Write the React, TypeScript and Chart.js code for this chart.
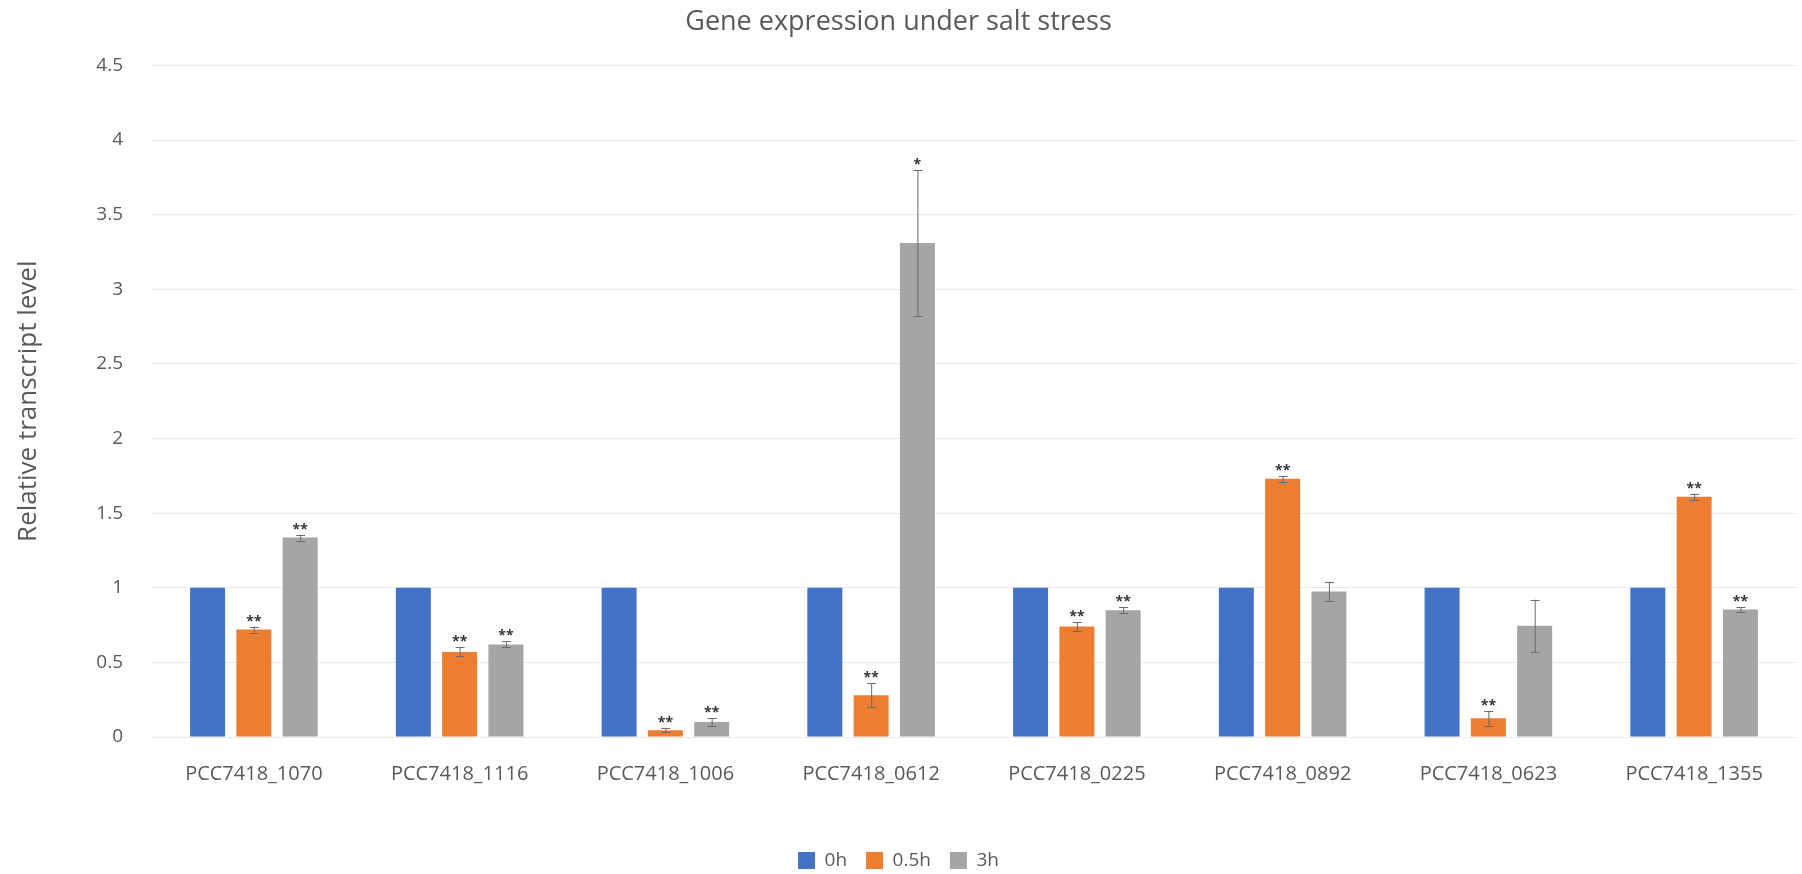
import React, { useEffect, useRef } from "react";
import { Chart, registerables } from "chart.js";

Chart.register(...registerables);

const categories = [
  "PCC7418_1070",
  "PCC7418_1116",
  "PCC7418_1006",
  "PCC7418_0612",
  "PCC7418_0225",
  "PCC7418_0892",
  "PCC7418_0623",
  "PCC7418_1355",
];
const seriesNames = ["0h", "0.5h", "3h"];
const values0h = [1, 1, 1, 1, 1, 1, 1, 1];
const values05h = [0.72, 0.57, 0.046, 0.28, 0.74, 1.73, 0.125, 1.61];
const values3h = [1.336, 0.62, 0.1, 3.31, 0.85, 0.975, 0.745, 0.855];
const err0h = [0, 0, 0, 0, 0, 0, 0, 0];
const err05h = [0.02, 0.03, 0.015, 0.08, 0.03, 0.02, 0.05, 0.02];
const err3h = [0.02, 0.02, 0.025, 0.49, 0.02, 0.065, 0.175, 0.015];
const sig0h = ["", "", "", "", "", "", "", ""];
const sig05h = ["**", "**", "**", "**", "**", "**", "**", "**"];
const sig3h = ["**", "**", "**", "*", "**", "", "", "**"];
const yMin = 0;
const yMax = 4.5;
const yStep = 0.5;

const colors = ["#4472C4", "#ED7D31", "#A5A5A5"];
const textColor = "#595959";
const FONT = "'Open Sans', 'DejaVu Sans', sans-serif";

const errors = [err0h, err05h, err3h];
const sigs = [sig0h, sig05h, sig3h];

const errorBarPlugin = {
  id: "errorBars",
  afterDatasetsDraw(chart: any) {
    const ctx = chart.ctx;
    const yScale = chart.scales.y;
    ctx.save();
    chart.data.datasets.forEach((ds: any, i: number) => {
      const meta = chart.getDatasetMeta(i);
      meta.data.forEach((bar: any, j: number) => {
        const v = ds.data[j];
        const e = errors[i][j];
        const x = bar.x;
        const yTop = yScale.getPixelForValue(v + e);
        const yBot = yScale.getPixelForValue(v - e);
        if (e > 0) {
          ctx.strokeStyle = "#6b6b6b";
          ctx.lineWidth = 1;
          ctx.beginPath();
          ctx.moveTo(x + 0.5, yTop);
          ctx.lineTo(x + 0.5, yBot);
          ctx.moveTo(x - 4, Math.round(yTop) + 0.5);
          ctx.lineTo(x + 5, Math.round(yTop) + 0.5);
          ctx.moveTo(x - 4, Math.round(yBot) + 0.5);
          ctx.lineTo(x + 5, Math.round(yBot) + 0.5);
          ctx.stroke();
        }
        const s = sigs[i][j];
        if (s) {
          ctx.fillStyle = "#333333";
          ctx.font = `bold 14px ${FONT}`;
          ctx.textAlign = "center";
          ctx.textBaseline = "alphabetic";
          ctx.fillText(s, x, yTop - 1);
        }
      });
    });
    ctx.restore();
  },
};

export default function App() {
  const canvasRef = useRef<HTMLCanvasElement | null>(null);

  useEffect(() => {
    const canvas = canvasRef.current;
    if (!canvas) return;
    const seriesValues = [values0h, values05h, values3h];
    const chart = new Chart(canvas, {
      type: "bar",
      data: {
        labels: categories,
        datasets: seriesNames.map((name, i) => ({
          label: name,
          data: seriesValues[i],
          backgroundColor: colors[i],
          borderWidth: 0,
          categoryPercentage: 0.675,
          barPercentage: 0.756,
        })),
      },
      options: {
        responsive: false,
        animation: false,
        devicePixelRatio: 1,
        layout: { padding: { left: 0, right: 5, top: 0, bottom: -6 } },
        plugins: {
          title: {
            display: true,
            text: "Gene expression under salt stress",
            color: textColor,
            font: { family: FONT, size: 27, weight: "normal" },
            padding: { top: 6, bottom: 27 },
          },
          legend: {
            display: true,
            position: "bottom",
            labels: {
              color: textColor,
              font: { family: FONT, size: 19 },
              boxWidth: 17,
              boxHeight: 17,
              padding: 19,
            },
          },
          tooltip: { enabled: false },
        },
        scales: {
          x: {
            grid: { display: false, drawTicks: false },
            border: { display: false },
            ticks: {
              color: textColor,
              font: { family: FONT, size: 20 },
              padding: 25,
              maxRotation: 0,
              autoSkip: false,
            },
            afterFit(scale: any) {
              scale.height = 95;
            },
          },
          y: {
            min: yMin,
            max: yMax,
            grid: { color: "#eaeaea", lineWidth: 1, drawTicks: false },
            border: { display: false },
            ticks: {
              stepSize: yStep,
              color: textColor,
              font: { family: FONT, size: 19 },
              padding: 28,
              callback: (value: any) => String(Number(value)),
            },
            title: {
              display: true,
              text: "Relative transcript level",
              color: textColor,
              font: { family: FONT, size: 26, weight: "normal" },
              padding: { top: 13, bottom: 0 },
            },
            afterFit(scale: any) {
              scale.width = 151;
            },
          },
        },
      },
      plugins: [errorBarPlugin],
    });
    return () => chart.destroy();
  }, []);

  return (
    <div style={{ position: "absolute", left: 0, top: 0, width: 1802, height: 874, background: "#ffffff" }}>
      <canvas ref={canvasRef} width={1802} height={874} style={{ display: "block" }} />
    </div>
  );
}
